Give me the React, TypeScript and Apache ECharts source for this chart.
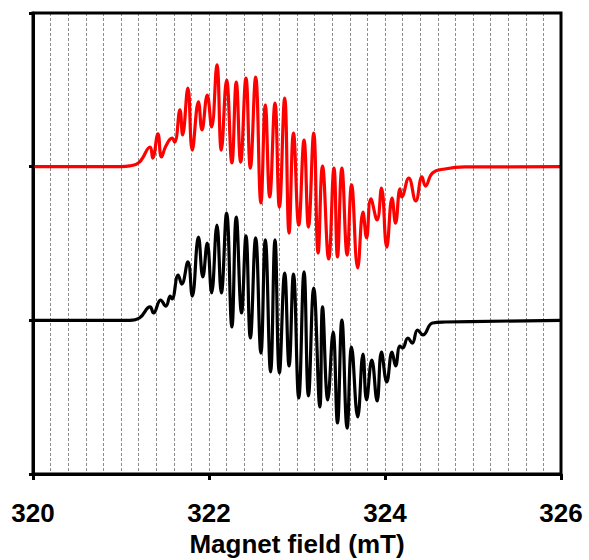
import React, { useEffect, useRef } from "react";
import * as echarts from "echarts";

// Magnetic field (mT) positions of the red spectrum's turning points
const redField = [320.00, 321.00, 321.10, 321.21, 321.33, 321.36, 321.42, 321.46, 321.51, 321.58, 321.61, 321.67, 321.70, 321.76, 321.81, 321.88, 321.92, 321.98, 322.03, 322.09, 322.14, 322.20, 322.26, 322.31, 322.36, 322.42, 322.47, 322.53, 322.59, 322.64, 322.69, 322.75, 322.80, 322.86, 322.91, 322.96, 323.02, 323.08, 323.13, 323.19, 323.24, 323.29, 323.36, 323.42, 323.46, 323.51, 323.57, 323.62, 323.69, 323.75, 323.79, 323.84, 323.91, 323.96, 324.02, 324.08, 324.12, 324.17, 324.19, 324.27, 324.35, 324.42, 324.46, 324.54, 324.68, 324.91, 326.00];
const redSignal = [2.00, 2.00, 2.005, 2.03, 2.128, 2.056, 2.213, 2.063, 2.134, 2.186, 2.16, 2.369, 2.206, 2.512, 2.108, 2.421, 2.239, 2.466, 2.258, 2.662, 2.108, 2.564, 2.024, 2.551, 2.03, 2.577, 1.991, 2.583, 1.764, 2.401, 1.803, 2.414, 1.737, 2.447, 1.568, 2.219, 1.620, 2.173, 1.607, 2.219, 1.438, 2.004, 1.399, 1.991, 1.412, 1.991, 1.425, 1.881, 1.341, 1.705, 1.536, 1.790, 1.653, 1.861, 1.477, 1.796, 1.633, 1.855, 1.803, 1.926, 1.777, 1.933, 1.874, 1.959, 1.985, 1.998, 2.00];

// Black spectrum
const blackField = [320.00, 321.10, 321.21, 321.33, 321.37, 321.45, 321.51, 321.56, 321.58, 321.65, 321.69, 321.76, 321.81, 321.88, 321.93, 321.98, 322.03, 322.09, 322.14, 322.20, 322.26, 322.31, 322.37, 322.42, 322.47, 322.53, 322.59, 322.64, 322.70, 322.75, 322.80, 322.86, 322.91, 322.96, 323.02, 323.08, 323.13, 323.19, 323.26, 323.29, 323.35, 323.41, 323.46, 323.51, 323.57, 323.62, 323.69, 323.75, 323.79, 323.85, 323.91, 323.96, 324.02, 324.08, 324.12, 324.17, 324.20, 324.26, 324.31, 324.37, 324.43, 324.54, 324.68, 326.00];
const blackSignal = [1.00, 1.00, 1.015, 1.087, 1.048, 1.132, 1.093, 1.158, 1.139, 1.295, 1.236, 1.380, 1.158, 1.542, 1.282, 1.503, 1.178, 1.620, 1.178, 1.698, 0.957, 1.672, 1.048, 1.549, 0.885, 1.536, 0.787, 1.523, 0.664, 1.523, 0.657, 1.308, 0.703, 1.301, 0.495, 1.315, 0.508, 1.210, 0.436, 1.087, 0.482, 0.924, 0.332, 1.002, 0.299, 0.826, 0.371, 0.781, 0.482, 0.742, 0.475, 0.794, 0.599, 0.794, 0.703, 0.833, 0.820, 0.885, 0.852, 0.937, 0.905, 0.983, 0.989, 1.00];

const xTicks = [320, 322, 324, 326];
const xName = "Magnet field (mT)";

const GRID = { left: 33, right: 28, top: 13, bottom: 86 };
const W = 589;
const H = 560;

export default function App() {
  const ref = useRef<HTMLDivElement>(null);
  useEffect(() => {
    document.body.style.margin = "0";
    const chart = echarts.init(ref.current!, undefined, { renderer: "svg", width: W, height: H });
    const font = "'Liberation Sans', Arial, sans-serif";
    const dash = { type: [3, 2], color: "#8c8c8c", width: 1 };
    chart.setOption({
      animation: false,
      backgroundColor: "#ffffff",
      grid: { ...GRID, containLabel: false, outerBoundsMode: "none" },
      graphic: [
        {
          type: "rect",
          z: 100,
          silent: true,
          shape: {
            x: GRID.left,
            y: GRID.top,
            width: W - GRID.left - GRID.right,
            height: H - GRID.top - GRID.bottom,
          },
          style: { fill: "none", stroke: "#000", lineWidth: 3 },
        },
      ],
      xAxis: {
        type: "value",
        min: xTicks[0],
        max: xTicks[xTicks.length - 1],
        interval: 2,
        name: xName,
        nameLocation: "middle",
        nameGap: 56,
        nameTextStyle: { fontFamily: font, fontWeight: "bold", fontSize: 26, color: "#000" },
        axisLine: { show: true, onZero: false, lineStyle: { color: "#000", width: 3 } },
        axisTick: { show: true, length: 6, lineStyle: { color: "#000", width: 3 } },
        axisLabel: { fontFamily: font, fontWeight: "bold", fontSize: 26, color: "#000", margin: 26 },
        splitLine: { show: true, lineStyle: dash },
        minorTick: { show: false, splitNumber: 10 },
        minorSplitLine: { show: true, lineStyle: dash },
      },
      yAxis: {
        type: "value",
        min: 0,
        max: 3,
        interval: 1,
        axisLine: { show: true, onZero: false, lineStyle: { color: "#000", width: 3 } },
        axisTick: { show: true, length: 4, lineStyle: { color: "#000", width: 3 } },
        axisLabel: { show: false },
        splitLine: { show: false },
      },
      series: [
        {
          type: "line",
          data: redField.map((f, i) => [f, redSignal[i]]),
          smooth: 0.45,
          showSymbol: false,
          lineStyle: { color: "#ff0000", width: 3.2 },
          z: 3,
        },
        {
          type: "line",
          data: blackField.map((f, i) => [f, blackSignal[i]]),
          smooth: 0.45,
          showSymbol: false,
          lineStyle: { color: "#000000", width: 3.2 },
          z: 3,
        },
      ],
    });
    return () => chart.dispose();
  }, []);
  return <div ref={ref} style={{ width: W, height: H, position: "absolute", left: 0, top: 0 }} />;
}
